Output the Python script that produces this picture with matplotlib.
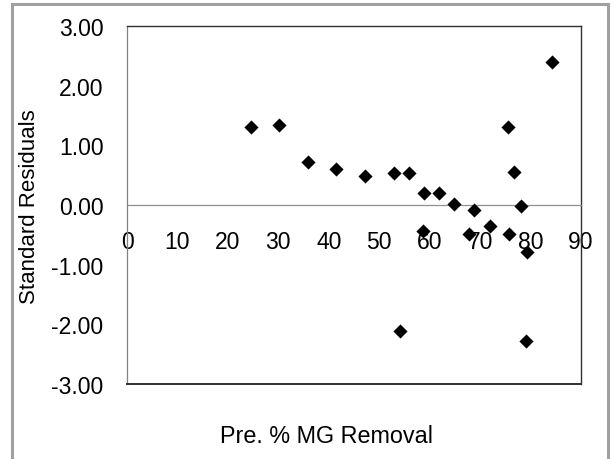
import matplotlib

matplotlib.use("Agg")
import matplotlib.pyplot as plt
from matplotlib.patches import Rectangle

# ---- data ------------------------------------------------------------------
pre_mg_removal = [24.6, 30.2, 35.8, 41.4, 47.2, 52.9, 55.9, 58.9, 61.9, 64.9, 68.7,
                  58.6, 67.8, 72.0, 75.7, 75.5, 76.8, 78.1, 79.3, 84.2, 54.1, 79.1]
std_residuals = [1.30, 1.34, 0.72, 0.60, 0.48, 0.54, 0.54, 0.20, 0.20, 0.01, -0.09,
                 -0.43, -0.49, -0.36, -0.49, 1.30, 0.56, -0.02, -0.78, 2.40, -2.12, -2.28]
x_ticks = [0, 10, 20, 30, 40, 50, 60, 70, 80, 90]
y_ticks = [-3, -2, -1, 0, 1, 2, 3]

plt.rcParams["font.family"] = ["Liberation Sans", "DejaVu Sans"]

W, H = 614, 460
fig = plt.figure(figsize=(W / 100, H / 100), dpi=100)
fig.patch.set_facecolor("white")

# outer chart-area frame (Excel style), runs off the bottom edge
fig.patches.append(Rectangle((12 / W, -0.05), (608 - 12) / W, 1.05 - 5 / H,
                             transform=fig.transFigure, fill=False,
                             edgecolor="#a0a0a0", linewidth=2.2))

ax = fig.add_axes((127 / W, 1 - 385 / H, (581 - 127) / W, (385 - 27) / H))
ax.scatter(pre_mg_removal, std_residuals, marker="D", s=52, color="black",
           linewidths=0, zorder=5, clip_on=False)

ax.set_xlim(0, 90)
ax.set_ylim(-3, 3)
ax.set_xticks(x_ticks)
ax.set_yticks(y_ticks)
ax.set_yticklabels([f"{v:.2f}" for v in y_ticks])

# x axis crosses at y = 0, box closed by a line at the bottom
ax.spines["bottom"].set_position(("data", 0))
ax.spines["bottom"].set_color("#909090")
ax.spines["bottom"].set_linewidth(0.9)
ax.spines["left"].set_color("#808080")
ax.spines["left"].set_linewidth(0.9)
for side in ("top", "right"):
    ax.spines[side].set_color("#303030")
    ax.spines[side].set_linewidth(1.0)
ax.axhline(-3, color="#303030", lw=1.4, clip_on=False, zorder=4)

ax.tick_params(axis="x", length=0, pad=18, labelsize=16.5, colors="black")
ax.tick_params(axis="y", length=0, pad=17, labelsize=16.5, colors="black")

fig.text(30 / W, 1 - 207 / H, "Standard Residuals", rotation=90,
         ha="center", va="center", fontsize=16)
fig.text(327 / W, 1 - 437 / H, "Pre. % MG Removal", ha="center", va="center",
         fontsize=16.8)

fig.savefig("out.png", dpi=100, facecolor="white")
